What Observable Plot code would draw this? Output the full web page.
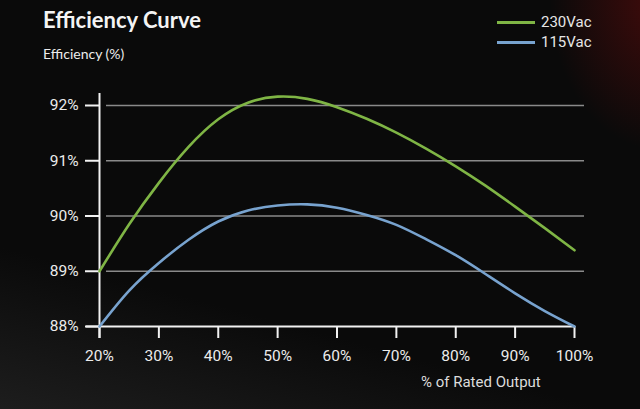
<!DOCTYPE html>
<html>
<head>
<meta charset="utf-8">
<script src="https://cdn.jsdelivr.net/npm/d3@7"></script>
<script src="https://cdn.jsdelivr.net/npm/@observablehq/plot@0.6"></script>
<style>
  html, body { margin: 0; padding: 0; }
  body {
    width: 640px; height: 409px; overflow: hidden; position: relative;
    background:
      radial-gradient(ellipse 110px 150px at 660px 0px, rgba(110,12,12,0.55), rgba(0,0,0,0) 100%),
      linear-gradient(195deg, rgba(0,0,0,0) 72%, rgba(42,42,42,0.6) 100%),
      #0a0a0a;
    font-family: Roboto, "Liberation Sans", sans-serif;
    color: #ececec;
  }
  #chart { position: absolute; left: 0; top: 0; }
  .title { position: absolute; left: 43px; top: 8.5px; font: 700 22px/1 Lato, sans-serif; color: #f4f4f4; }
  .subtitle { position: absolute; left: 43px; top: 47px; font: 400 14px/1 Lato, sans-serif; color: #ececec; }
  .legend { position: absolute; left: 497px; font: 15px/1 Roboto, sans-serif; color: #e6e6e6; display: flex; align-items: center; }
  .legend .sw { display: inline-block; width: 38px; height: 2.5px; margin-right: 6px; }
  .xlabel { position: absolute; left: 421px; top: 375px; font: 15px/1 Roboto, sans-serif; color: #dcdcdc; }
</style>
</head>
<body>
<div id="chart"></div>
<div class="title">Efficiency Curve</div>
<div class="subtitle">Efficiency (%)</div>
<div class="legend" style="top:15px"><span class="sw" style="background:#7fb545"></span>230Vac</div>
<div class="legend" style="top:35px"><span class="sw" style="background:#78a3cf"></span>115Vac</div>
<div class="xlabel">% of Rated Output</div>
<script>
const loads  = [20, 25, 30, 35, 40, 45, 50, 55, 60, 65, 70, 75, 80, 85, 90, 95, 100];
const eff230 = [89.0, 89.85, 90.6, 91.25, 91.75, 92.05, 92.16, 92.12, 91.97, 91.76, 91.51, 91.22, 90.9, 90.55, 90.17, 89.78, 89.38];
const eff115 = [88.0, 88.65, 89.15, 89.57, 89.9, 90.1, 90.19, 90.21, 90.15, 90.02, 89.84, 89.58, 89.29, 88.95, 88.6, 88.28, 88.0];
const xTicks = [20, 30, 40, 50, 60, 70, 80, 90, 100];
const yTicks = [88, 89, 90, 91, 92];
const seriesNames = ["230Vac", "115Vac"];
const seriesColors = ["#7fb545", "#78a3cf"];

const rows = [];
loads.forEach((l, i) => {
  rows.push({load: l, eff: eff230[i], series: seriesNames[0]});
  rows.push({load: l, eff: eff115[i], series: seriesNames[1]});
});

const chart = Plot.plot({
  width: 640,
  height: 409,
  marginLeft: 99,
  marginRight: 66,
  marginTop: 105,
  marginBottom: 83,
  style: { background: "transparent", color: "#ececec", fontFamily: "Roboto, sans-serif", fontSize: "15.5px" },
  x: { domain: [20, 100], label: null },
  y: { domain: [88, 92], label: null },
  color: { domain: seriesNames, range: seriesColors },
  marks: [
    Plot.gridY(yTicks.slice(1), { stroke: "#8a8a8a", strokeOpacity: 1, strokeWidth: 1.6, insetLeft: 7, insetRight: -10 }),
    Plot.ruleY([yTicks[0]], { stroke: "#f2f2f2", strokeWidth: 2, insetLeft: -13, insetRight: -1 }),
    Plot.ruleX([xTicks[0]], { stroke: "#f2f2f2", strokeWidth: 2, insetTop: -12, insetBottom: -12 }),
    Plot.axisY(yTicks, { tickSize: 14, tickPadding: 7, stroke: "#f2f2f2", strokeWidth: 2, tickFormat: d => d + "%", fill: "#ececec", label: null }),
    Plot.axisX(xTicks, { tickSize: 12, tickPadding: 11, stroke: "#f2f2f2", strokeWidth: 2, tickFormat: d => d + "%", fill: "#ececec", label: null }),
    Plot.line(rows, { x: "load", y: "eff", stroke: "series", z: "series", strokeWidth: 2.6, curve: "natural" })
  ]
});
document.getElementById("chart").appendChild(chart);
</script>
</body>
</html>
